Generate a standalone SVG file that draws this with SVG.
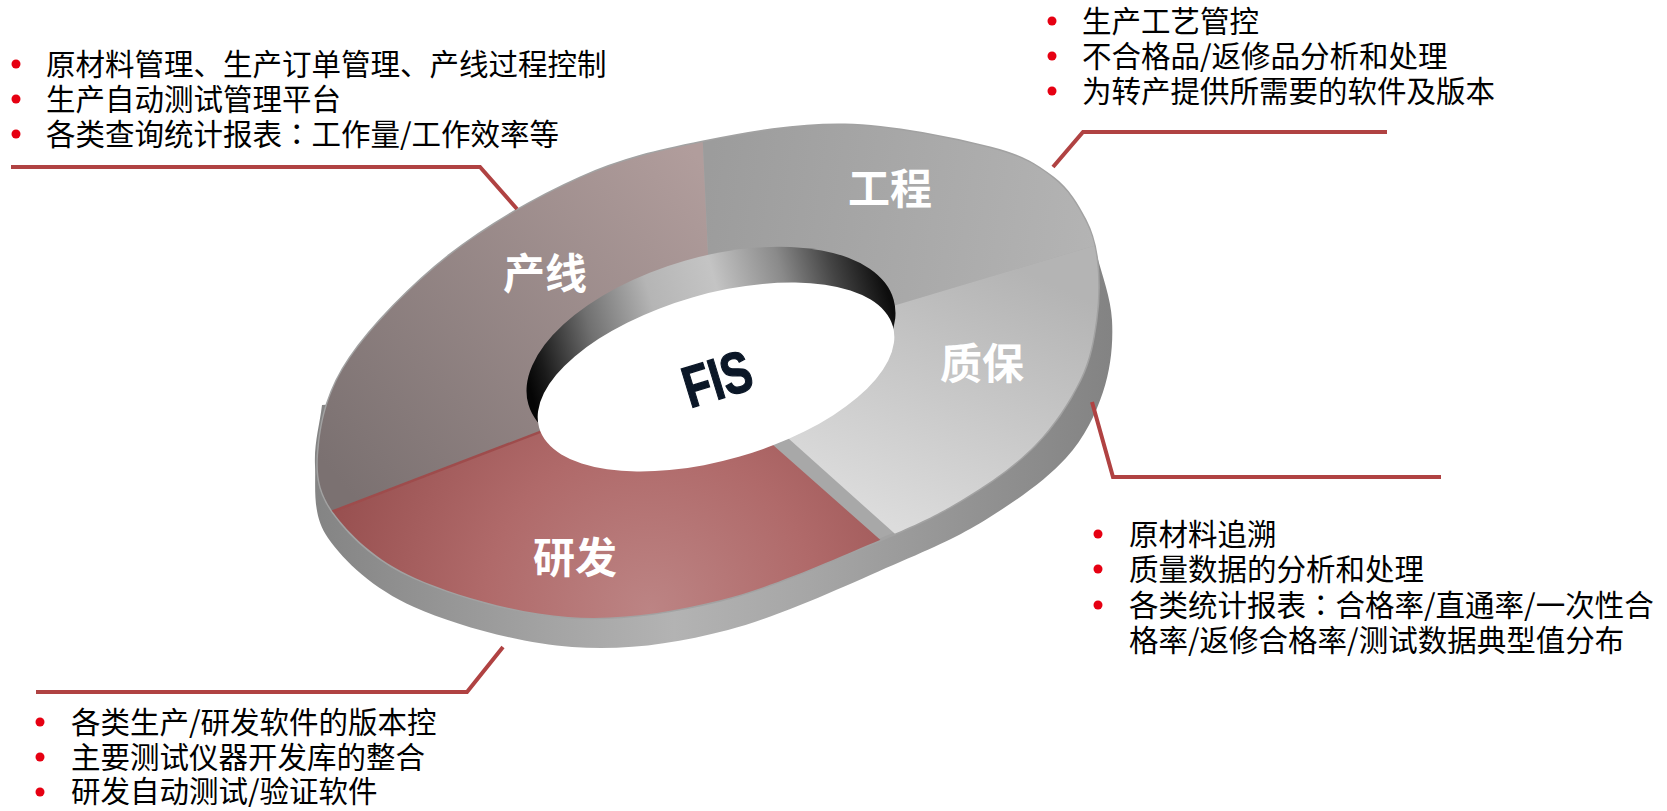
<svg xmlns="http://www.w3.org/2000/svg" width="1667" height="811" viewBox="0 0 1667 811">
<style>
.t{font-family:"Noto Sans CJK SC","Microsoft YaHei",sans-serif;font-size:29.5px;fill:#000}
.c{font-family:"Noto Sans CJK TC","Noto Sans CJK SC",sans-serif}
.lbl{font-family:"Noto Sans CJK SC",sans-serif;font-size:42px;font-weight:bold;fill:#fff;text-anchor:middle}
.b{fill:#e60012}
.conn{fill:none;stroke:#b04242;stroke-width:4}
</style>
<defs>
<path id="topface" d="M703,142 C747.2,133.2 797.2,124 845,125 C892.8,126 955.3,139.2 990,148 C1024.7,156.8 1037.2,166 1053,178 C1068.8,190 1077.7,206 1085,220 C1092.3,234 1095.2,245.3 1097,262 C1098.8,278.7 1098.8,300.3 1096,320 C1093.2,339.7 1090.2,359.2 1080,380 C1069.8,400.8 1054.2,425.3 1035,445 C1015.8,464.7 990.8,482.2 965,498 C939.2,513.8 920.7,523 880,540 C839.3,557 773,587.2 721,600 C669,612.8 619,620.7 568,617 C517,613.3 454.2,595.5 415,578 C375.8,560.5 349,534.2 333,512 C317,489.8 316.2,470.7 319,445 C321.8,419.3 328.2,389.7 350,358 C371.8,326.3 411.7,285 450,255 C488.3,225 537.8,196.8 580,178 C622.2,159.2 658.8,150.8 703,142 Z"/>
<clipPath id="clipTop"><use href="#topface"/></clipPath>
<linearGradient id="gRim" gradientUnits="userSpaceOnUse" x1="315" y1="0" x2="1113" y2="0">
<stop offset="0" stop-color="#848484"/><stop offset="0.3" stop-color="#a4a4a4"/><stop offset="0.45" stop-color="#b3b3b3"/><stop offset="0.62" stop-color="#a6a6a6"/><stop offset="0.82" stop-color="#939393"/><stop offset="1" stop-color="#838383"/>
</linearGradient>
<linearGradient id="gCx" gradientUnits="userSpaceOnUse" x1="330" y1="470" x2="700" y2="160">
<stop offset="0" stop-color="#7b7171"/><stop offset="1" stop-color="#b19d9c"/>
</linearGradient>
<linearGradient id="gGc" gradientUnits="userSpaceOnUse" x1="704" y1="200" x2="1095" y2="260">
<stop offset="0" stop-color="#9c9c9c"/><stop offset="1" stop-color="#b4b4b4"/>
</linearGradient>
<linearGradient id="gZb" gradientUnits="userSpaceOnUse" x1="1000" y1="260" x2="880" y2="520">
<stop offset="0" stop-color="#b4b4b4"/><stop offset="1" stop-color="#dcdcdc"/>
</linearGradient>
<radialGradient id="gYf" gradientUnits="userSpaceOnUse" cx="650" cy="610" r="330">
<stop offset="0" stop-color="#bc8484"/><stop offset="0.5" stop-color="#b06a6a"/><stop offset="1" stop-color="#985050"/>
</radialGradient>
<linearGradient id="gWall" gradientUnits="userSpaceOnUse" x1="527" y1="0" x2="897" y2="0">
<stop offset="0" stop-color="#050505"/><stop offset="0.05" stop-color="#1a1a1a"/><stop offset="0.2" stop-color="#707070"/><stop offset="0.38" stop-color="#b5b5b5"/><stop offset="0.56" stop-color="#c4c4c4"/><stop offset="0.74" stop-color="#8a8a8a"/><stop offset="0.875" stop-color="#444444"/><stop offset="1" stop-color="#0d0d0d"/>
</linearGradient>
</defs>

<g id="ring">
<path id="rim" fill="url(#gRim)" d="M1095,248 C1100.7,272 1110.7,296 1112,320 C1113.3,344 1110.7,369 1103,392 C1095.3,415 1084.8,437.2 1066,458 C1047.2,478.8 1017.7,499.7 990,517 C962.3,534.3 943.7,543.2 900,562 C856.3,580.8 782.7,615.8 728,630 C673.3,644.2 624.3,650.8 572,647 C519.7,643.2 454.7,625.2 414,607 C373.3,588.8 344.5,561.7 328,538 C311.5,514.3 316,487.2 315,465 C314,442.8 319.7,425 322,405 L700,380 Z"/>
<use href="#topface" fill="#a8a8a8" stroke="#a2a2a2" stroke-width="3"/>
<g clip-path="url(#clipTop)">
<g id="seg-chanxian"><polygon fill="url(#gCx)" points="713,366 250,543 250,40 698,40 713,360"/></g>
<g id="seg-gongcheng"><polygon fill="url(#gGc)" points="713,360 698,40 1200,40 1200,214"/></g>
<g id="seg-zhibao"><polygon fill="url(#gZb)" points="713,360 1200,214 1200,660 960,592 713,371"/></g>
<g id="seg-yanfa"><polygon fill="url(#gYf)" points="713,392 945,597 945,720 250,720 250,543 713,366"/>
<line x1="331" y1="512" x2="600" y2="409" stroke="#9e4c4c" stroke-width="2.5"/></g>
</g>
<ellipse id="wall" cx="711" cy="352" rx="190" ry="95" transform="rotate(-16 711 352)" fill="url(#gWall)"/>
<ellipse id="hole" cx="716" cy="377" rx="184" ry="83" transform="rotate(-16 716 377)" fill="#ffffff"/>
<text class="lbl" x="545" y="289">产线</text>
<text class="lbl" x="890" y="204">工程</text>
<text class="lbl" x="982" y="379">质保</text>
<text class="lbl" x="575" y="573">研发</text>
<g id="hub"><text x="0" y="19" transform="translate(717,378) rotate(-17) scale(0.84,1.1)" font-family="Liberation Sans, Arial, sans-serif" font-weight="bold" font-size="53" fill="#0b1727" stroke="#0b1727" stroke-width="1.2" text-anchor="middle">FIS</text></g>
</g>

<g id="connectors">
<path class="conn" d="M11,167 H480 L517,209"/>
<path class="conn" d="M1387,132 H1083 L1053,167"/>
<path class="conn" d="M1092,402 L1113,477 H1441"/>
<path class="conn" d="M503,647 L467,692 H36"/>
</g>

<g id="note-chanxian">
<circle class="b" cx="16" cy="64" r="4.5"/><circle class="b" cx="16" cy="99" r="4.5"/><circle class="b" cx="16" cy="134" r="4.5"/>
<text class="t"><tspan x="46" y="75">原材料管理、生产订单管理、产线过程控制</tspan><tspan x="46" y="110">生产自动测试管理平台</tspan><tspan x="46" y="145">各类查询统计报表<tspan class="c">：</tspan>工作量/工作效率等</tspan></text>
</g>

<g id="note-gongcheng">
<circle class="b" cx="1052" cy="21" r="4.5"/><circle class="b" cx="1052" cy="56" r="4.5"/><circle class="b" cx="1052" cy="91" r="4.5"/>
<text class="t"><tspan x="1082" y="32">生产工艺管控</tspan><tspan x="1082" y="67">不合格品/返修品分析和处理</tspan><tspan x="1082" y="102">为转产提供所需要的软件及版本</tspan></text>
</g>

<g id="note-zhibao">
<circle class="b" cx="1098" cy="534" r="4.5"/><circle class="b" cx="1098" cy="569" r="4.5"/><circle class="b" cx="1098" cy="605" r="4.5"/>
<text class="t"><tspan x="1129" y="545">原材料追溯</tspan><tspan x="1129" y="580">质量数据的分析和处理</tspan><tspan x="1129" y="616">各类统计报表<tspan class="c">：</tspan>合格率/直通率/一次性合</tspan><tspan x="1129" y="651">格率/返修合格率/测试数据典型值分布</tspan></text>
</g>

<g id="note-yanfa">
<circle class="b" cx="40" cy="722" r="4.5"/><circle class="b" cx="40" cy="757" r="4.5"/><circle class="b" cx="40" cy="792" r="4.5"/>
<text class="t"><tspan x="71" y="733">各类生产/研发软件的版本控</tspan><tspan x="71" y="768">主要测试仪器开发库的整合</tspan><tspan x="71" y="802">研发自动测试/验证软件</tspan></text>
</g>
</svg>
